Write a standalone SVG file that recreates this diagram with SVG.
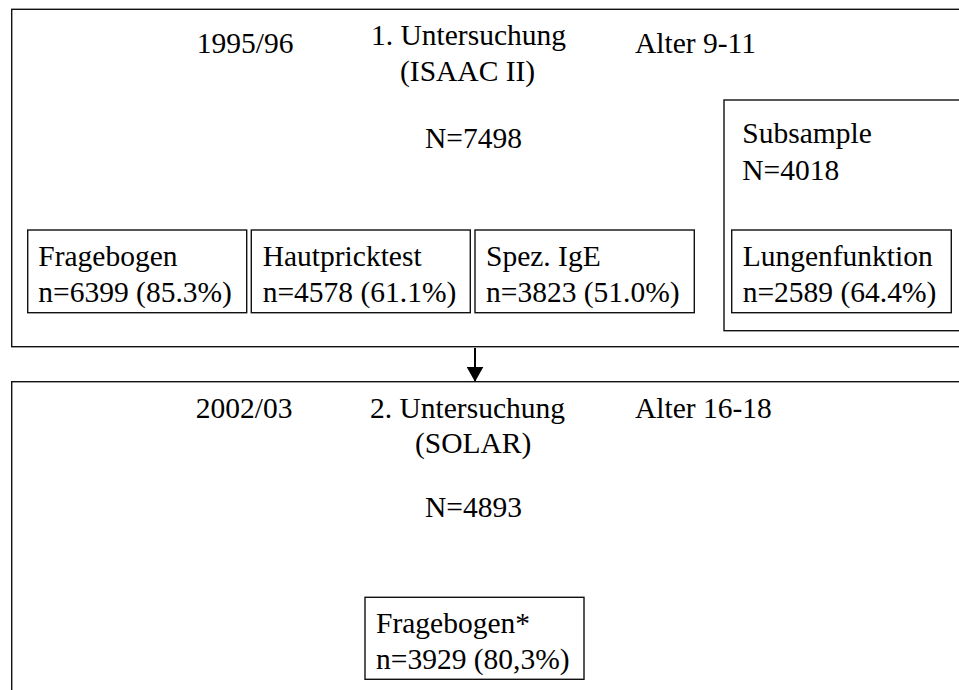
<svg xmlns="http://www.w3.org/2000/svg" width="959" height="690" viewBox="0 0 959 690">
<defs>
<style>
.b{fill:none;stroke:#111;stroke-width:1.4}
.t{font-family:"Liberation Serif","Times New Roman",serif;font-size:29.5px;fill:#000}
</style>
<marker id="ah" viewBox="0 0 15 17" refX="15" refY="8.5" markerWidth="15" markerHeight="17" markerUnits="userSpaceOnUse" orient="auto">
<path d="M0,0 L15,8.5 L0,17 Z" fill="#000"/>
</marker>
</defs>
<rect width="959" height="690" fill="#fff"/>
<g id="study1">
<rect class="b" x="11.7" y="9.3" width="970" height="337.4"/>
<text class="t" x="196.7" y="53.3">1995/96</text>
<text class="t" x="371" y="45">1. Untersuchung</text>
<text class="t" x="400" y="80.5">(ISAAC II)</text>
<text class="t" x="635" y="53.3">Alter 9-11</text>
<text class="t" x="425" y="148.3">N=7498</text>
</g>
<g id="frage1">
<rect class="b" x="27.7" y="230" width="219" height="82.7"/>
<text class="t" x="38.3" y="266">Fragebogen</text>
<text class="t" x="38.3" y="302">n=6399 (85.3%)</text>
</g>
<g id="haut">
<rect class="b" x="251.3" y="230" width="219" height="82.7"/>
<text class="t" x="262.7" y="266">Hautpricktest</text>
<text class="t" x="262.7" y="302">n=4578 (61.1%)</text>
</g>
<g id="ige">
<rect class="b" x="475" y="230" width="219.3" height="82.7"/>
<text class="t" x="486" y="266">Spez. IgE</text>
<text class="t" x="486" y="302">n=3823 (51.0%)</text>
</g>
<g id="subsample">
<rect class="b" x="724" y="100" width="260" height="230.7"/>
<text class="t" x="742.3" y="143.3">Subsample</text>
<text class="t" x="742.3" y="180">N=4018</text>
</g>
<g id="lunge">
<rect class="b" x="731.7" y="230" width="219.6" height="82.7"/>
<text class="t" x="742.7" y="266">Lungenfunktion</text>
<text class="t" x="742.7" y="302">n=2589 (64.4%)</text>
</g>
<g id="connectors">
<line x1="475" y1="348" x2="475" y2="381.7" stroke="#000" stroke-width="2" marker-end="url(#ah)"/>
</g>
<g id="study2">
<rect class="b" x="11.7" y="381.7" width="970" height="340"/>
<text class="t" x="195.7" y="418.3">2002/03</text>
<text class="t" x="370" y="418.3">2. Untersuchung</text>
<text class="t" x="415" y="452.5">(SOLAR)</text>
<text class="t" x="635" y="418.3">Alter 16-18</text>
<text class="t" x="425" y="516.7">N=4893</text>
</g>
<g id="frage2">
<rect class="b" x="365" y="597.3" width="219" height="82"/>
<text class="t" x="376" y="633">Fragebogen*</text>
<text class="t" x="376" y="669">n=3929 (80,3%)</text>
</g>
</svg>
